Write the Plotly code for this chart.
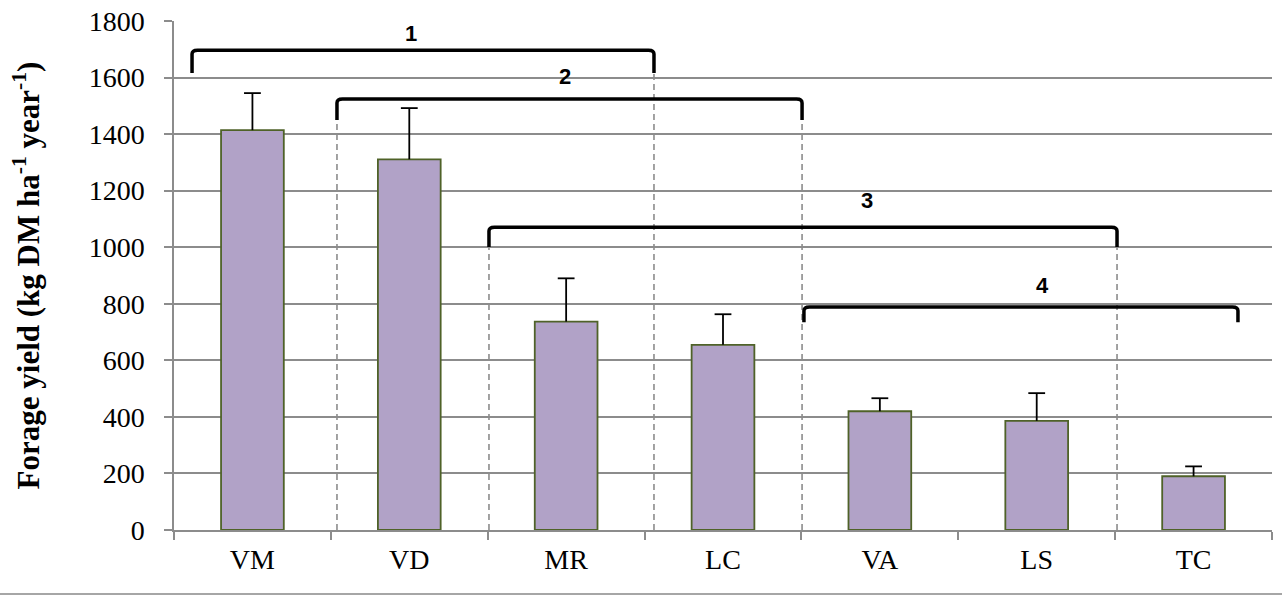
import plotly.graph_objects as go

# Forage yield per species (kg DM ha-1 year-1) with standard error
species = ["VM", "VD", "MR", "LC", "VA", "LS", "TC"]
yield_mean = [1414, 1311, 737, 655, 420, 386, 190]
yield_err = [131, 181, 153, 108, 46, 98, 35]

# Homogeneous groups: bracket extents (category index units) and heights
group_labels = ["1", "2", "3", "4"]
group_x0 = [-0.385, 0.539, 1.508, 3.516]
group_x1 = [2.560, 3.504, 5.512, 6.283]
group_top = [1697, 1524, 1071, 789]
group_leg = [1616, 1450, 1001, 735]
label_x = [1.01, 1.99, 3.92, 5.04]
label_y = [1757, 1605, 1167, 866]

# Dashed guides marking group boundaries
guide_x = [0.539, 1.508, 2.560, 3.504, 5.512]
guide_top = [1450, 1001, 1616, 1450, 1001]

err_top = [m + e for m, e in zip(yield_mean, yield_err)]

fig = go.Figure()
fig.add_trace(go.Bar(
    x=species,
    y=yield_mean,
    marker=dict(color="#B1A2C7", line=dict(color="#4F6228", width=1.8)),
    width=0.4,
    showlegend=False,
    hoverinfo="x+y",
))
# Error bar stems (upper side only), drawn from the bar top
fig.add_trace(go.Scatter(
    x=species, y=yield_mean, mode="none",
    error_y=dict(type="data", symmetric=False, array=yield_err,
                 arrayminus=[0] * len(yield_err),
                 color="black", thickness=1.8, width=0),
    showlegend=False, hoverinfo="skip",
))
# Caps on the upper end of each error bar
fig.add_trace(go.Scatter(
    x=species, y=err_top, mode="markers",
    marker=dict(symbol="line-ew", size=12, line=dict(color="black", width=1.8)),
    showlegend=False, hoverinfo="skip",
))

shapes = []
for x, yt in zip(guide_x, guide_top):
    shapes.append(dict(type="line", xref="x", yref="y", x0=x, x1=x, y0=0, y1=yt,
                       line=dict(color="#8C8C8C", width=1.6, dash="6px,4px"),
                       layer="above"))
for x0, x1, yt, yl in zip(group_x0, group_x1, group_top, group_leg):
    path = (f"M {x0},{yl} L {x0},{yt - 14} Q {x0},{yt} {x0 + 0.035},{yt} "
            f"L {x1 - 0.035},{yt} Q {x1},{yt} {x1},{yt - 14} L {x1},{yl}")
    shapes.append(dict(type="path", xref="x", yref="y", path=path,
                       line=dict(color="black", width=3.5), layer="above"))
# Thin rule along the bottom of the figure
shapes.append(dict(type="line", xref="paper", yref="paper", x0=-0.2, x1=1.2,
                   y0=-0.1257, y1=-0.1257, line=dict(color="#A6A6A6", width=2)))

annotations = [
    dict(x=lx, y=ly, xref="x", yref="y", text=f"<b>{t}</b>", showarrow=False,
         font=dict(family="Liberation Sans", size=22, color="black"))
    for t, lx, ly in zip(group_labels, label_x, label_y)
]

fig.update_layout(
    width=1282, height=596,
    margin=dict(l=174, r=10, t=21, b=66, autoexpand=False),
    paper_bgcolor="white", plot_bgcolor="white",
    shapes=shapes, annotations=annotations,
    font=dict(family="Liberation Serif", color="black"),
    xaxis=dict(
        type="category", range=[-0.5, 6.5], automargin=False,
        showline=True, linecolor="#8C8C8C", linewidth=1.5,
        ticks="outside", tickson="boundaries", ticklen=8, tickcolor="#8C8C8C",
        tickwidth=1.5, showgrid=False,
        tickfont=dict(family="Liberation Serif", size=28, color="black"),
        ticklabelstandoff=4,
    ),
    yaxis=dict(
        range=[0, 1800], dtick=200, tick0=0, automargin=False,
        showline=True, linecolor="#8C8C8C", linewidth=1.5,
        ticks="outside", ticklen=8, tickcolor="#8C8C8C", tickwidth=1.5,
        showgrid=True, gridcolor="#8C8C8C", gridwidth=1.5,
        zeroline=False,
        tickfont=dict(family="Liberation Serif", size=28, color="black"),
        ticklabelstandoff=14,
        title=dict(text="<b>Forage yield (kg DM ha<sup>-1</sup> year<sup>-1</sup>)</b>",
                   font=dict(family="Liberation Serif", size=31, color="black"),
                   standoff=40),
    ),
)

fig.write_html("out.html")
